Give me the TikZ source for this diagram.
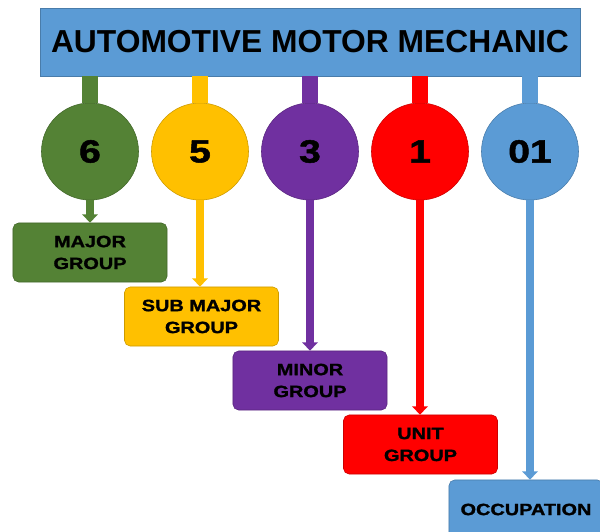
\documentclass[tikz,border=0pt]{standalone}
\usepackage{fontspec}
\setmainfont{Liberation Sans}
\newfontfamily\widefont{Liberation Sans}[FakeStretch=1.22, BoldFeatures={FakeBold=1.6}]
\usetikzlibrary{arrows.meta}
\definecolor{cgreen}{HTML}{548235}
\definecolor{cyellow}{HTML}{FFC000}
\definecolor{cpurple}{HTML}{7030A0}
\definecolor{cred}{HTML}{FF0000}
\definecolor{cblue}{HTML}{5B9BD5}
\tikzset{
    titlebox/.style = {rectangle, fill=cblue, draw=cblue!80!black, line width=0.5pt,
                       minimum width=13.5cm, minimum height=1.7cm,
                       font=\bfseries\fontsize{22.6}{24}\selectfont},
    digit/.style    = {circle, minimum size=2.425cm, inner sep=0pt, line width=0.4pt,
                       font=\widefont\bfseries\fontsize{22.8}{24}\selectfont},
    levelbox/.style = {rectangle, rounded corners=4pt, minimum width=3.85cm, minimum height=1.475cm,
                       inner sep=0pt, align=center, line width=0.4pt,
                       font=\widefont\bfseries\fontsize{11.6}{15.6}\selectfont},
    stem/.style     = {line width=12pt},
    down/.style     = {-{Triangle[length=6pt,width=11pt]}, line width=5pt}
}

\begin{document}
\begin{tikzpicture}[x=0.025cm, y=-0.025cm]
    \useasboundingbox (0,0) rectangle (600,532);

    % Title
    \node[titlebox] (title) at (310, 42) {AUTOMOTIVE MOTOR MECHANIC};

    % Code digits
    \node[digit, fill=cgreen,  draw=cgreen!80!black]   (g6)  at (90, 151.5)  {6};
    \node[digit, fill=cyellow, draw=cyellow!80!black]  (g5)  at (200, 151.5) {5};
    \node[digit, fill=cpurple, draw=cpurple!80!black]  (g3)  at (310, 151.5) {3};
    \node[digit, fill=cred,    draw=cred!80!black]     (g1)  at (420, 151.5) {1};
    \node[digit, fill=cblue,   draw=cblue!80!black]    (g01) at (530, 151.5) {01};

    % Levels (staircase)
    \node[levelbox, fill=cgreen,  draw=cgreen!80!black]  (major)    at (90, 252.5)    {MAJOR\\GROUP};
    \node[levelbox, fill=cyellow, draw=cyellow!80!black] (submajor) at (201.5, 316.5) {SUB MAJOR\\GROUP};
    \node[levelbox, fill=cpurple, draw=cpurple!80!black] (minor)    at (310, 380.5)   {MINOR\\GROUP};
    \node[levelbox, fill=cred,    draw=cred!80!black]    (unit)     at (420.5, 444.5) {UNIT\\GROUP};
    \node[levelbox, fill=cblue,   draw=cblue!80!black]   (occ)      at (526, 509.5)   {OCCUPATION};

    % Stems from title
    \draw[stem, cgreen]  (g6 |- title.south)  -- (g6.north);
    \draw[stem, cyellow] (g5 |- title.south)  -- (g5.north);
    \draw[stem, cpurple] (g3 |- title.south)  -- (g3.north);
    \draw[stem, cred]    (g1 |- title.south)  -- (g1.north);
    \draw[stem, cblue]   (g01 |- title.south) -- (g01.north);

    % Arrows down to the levels
    \draw[down, cgreen]  (g6.south)  -- (g6.south |- major.north);
    \draw[down, cyellow] (g5.south)  -- (g5.south |- submajor.north);
    \draw[down, cpurple] (g3.south)  -- (g3.south |- minor.north);
    \draw[down, cred]    (g1.south)  -- (g1.south |- unit.north);
    \draw[down, cblue]   (g01.south) -- (g01.south |- occ.north);
\end{tikzpicture}
\end{document}
